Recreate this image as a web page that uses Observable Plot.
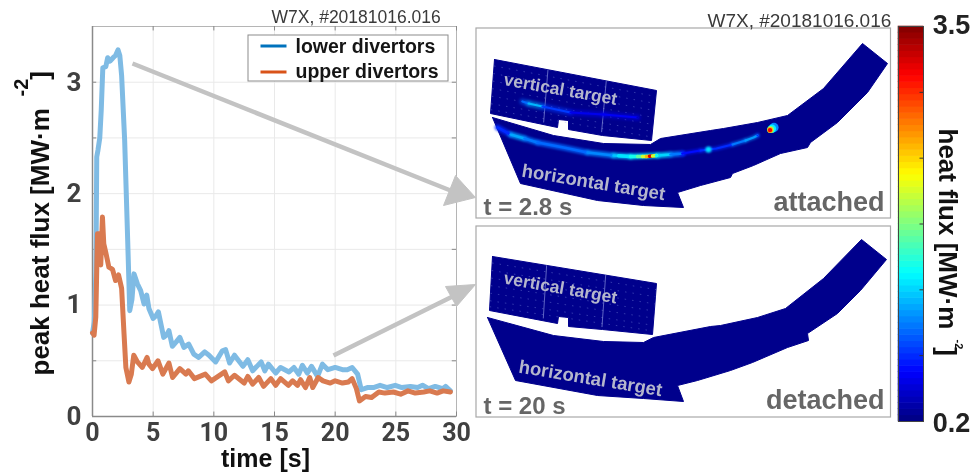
<!DOCTYPE html>
<html>
<head>
<meta charset="utf-8">
<script src="https://cdn.jsdelivr.net/npm/d3@7"></script>
<script src="https://cdn.jsdelivr.net/npm/@observablehq/plot@0.6"></script>
<style>
  html, body { margin: 0; background: #fff; overflow: hidden; }
  #fig { position: relative; width: 971px; height: 472px; filter: blur(0.5px); }
  #fig svg { position: absolute; left: 0; top: 0; background: transparent; overflow: visible; }
</style>
</head>
<body>
<div id="fig"></div>
<script>
// ---- peak heat flux time traces ----
const lowerT = [0.0,0.15,0.28,0.35,0.45,0.6,0.72,0.85,1.1,1.25,1.45,1.7,1.9,2.1,2.25,2.4,2.65,2.9,3.07,3.25,3.42,3.7,3.97,4.25,4.47,4.65,5.0,5.2,5.43,5.87,6.1,6.3,6.58,6.9,7.2,7.53,7.93,8.35,8.75,9.25,9.6,10.15,10.7,10.97,11.3,11.7,12.4,12.8,13.2,13.9,14.2,14.5,15.1,15.5,16.2,16.6,17,17.3,17.7,18.05,18.55,18.95,19.4,20,20.6,21,21.4,21.85,22.15,22.65,23.15,23.7,24.3,24.95,25.5,26.2,26.8,27.2,27.7,28.25,28.85,29.1,29.5];
const lowerQ = [0.75,0.85,1.3,2.33,2.39,2.5,2.75,3.13,3.14,3.22,3.19,3.22,3.24,3.29,3.24,3.06,2.48,1.58,0.95,1.05,1.28,1.19,1.13,1.01,1.09,0.97,0.88,0.9,0.94,0.71,0.73,0.77,0.63,0.67,0.71,0.62,0.65,0.56,0.53,0.58,0.55,0.49,0.59,0.60,0.48,0.55,0.45,0.51,0.41,0.49,0.41,0.47,0.39,0.44,0.40,0.44,0.38,0.46,0.39,0.45,0.36,0.47,0.42,0.44,0.42,0.42,0.44,0.38,0.24,0.26,0.26,0.28,0.26,0.28,0.26,0.27,0.26,0.28,0.25,0.27,0.25,0.27,0.23];
const upperT = [0.0,0.13,0.27,0.41,0.6,0.68,0.82,0.93,1.1,1.35,1.65,1.9,2.15,2.4,2.6,2.75,3.0,3.2,3.4,3.7,4.1,4.5,4.65,4.95,5.4,5.8,6.3,6.6,7.2,7.7,7.9,8.4,9.3,9.8,10.9,11.2,11.7,12.5,12.8,13.2,13.7,14.1,14.7,15.1,15.5,16.15,16.5,16.9,17.15,17.55,17.9,18.15,18.6,19,19.6,20,20.6,21.1,21.4,21.75,22,22.5,23,23.6,24.1,24.8,25.4,26,26.6,27.3,27.8,28.4,28.9,29.5];
const upperQ = [0.75,0.73,0.89,1.64,1.64,1.36,1.79,1.55,1.47,1.34,1.32,1.22,1.27,1.15,0.74,0.44,0.31,0.38,0.55,0.49,0.44,0.53,0.47,0.43,0.50,0.38,0.48,0.35,0.43,0.38,0.41,0.34,0.38,0.32,0.40,0.32,0.37,0.30,0.36,0.29,0.35,0.27,0.34,0.28,0.34,0.28,0.32,0.28,0.33,0.26,0.35,0.26,0.35,0.32,0.30,0.32,0.30,0.31,0.34,0.25,0.14,0.18,0.17,0.22,0.21,0.22,0.20,0.23,0.21,0.22,0.23,0.21,0.23,0.22];

const xTicks = [0,5,10,15,20,25,30];
const yLabelTicks = [0,1,2,3];
const yMinorTicks = [0.5,1.5,2.5];

// ---- jet colour map of the heat-flux scale ----
const heatStops = [0.2,0.6125,1.4375,2.2625,3.0875,3.5];
const heatColors = ["#000080","#0000ff","#00ffff","#ffff00","#ff0000","#800000"];
const barSteps = 64;
const barTicks = [0.2,0.75,1.3,1.85,2.4,2.95,3.5];

// ---- divertor target outlines, attached phase (t = 2.8 s) ----
const verticalA = [[494,59],[656,90],[651,140],[602,135],[568,129],[568,120],[558,119],[557,127],[490,113],[494,59]];
const horizontalA = [[492,117],[553,135],[603,143],[650,144],[660,138],[710,130],[723,128],[757,122],[787,115],[823,88],[862,43],[887,63],[867,92],[837,122],[810,142],[807,147],[780,153],[753,165],[732,173],[730,177],[700,185],[677,192],[683,207],[643,205],[597,200],[520,183],[492,117]];
// ---- divertor target outlines, detached phase (t = 20 s) ----
const verticalD = [[492,256],[656,283],[652,334],[602,329],[568,326],[568,317],[558,316],[557,323],[489,310],[492,256]];
const horizontalD = [[487,317],[553,335],[603,341],[643,342],[653,337],[710,326],[720,325],[757,317],[785,308],[823,278],[861,239],[886,259],[860,290],[837,313],[807,333],[808,340],[787,347],[752,362],[730,370],[697,380],[677,385],[683,401],[643,398],[597,395],[515,380],[487,317]];

// ---- heat-flux stripes on the attached targets: [x, y, flux] ----
const stripeH1 = [[497,127,0.75],[510,134,1.15],[524,138,1.0],[537,142,0.95],[563,147,0.95],[587,152,1.05],[613,155,1.25],[630,156,1.35],[657,155,1.3],[670,154,1.0],[682,153,0.7]];
const stripeH2 = [[682,153,0.65],[700,150,0.75],[716,148,0.75],[732,144,1.0],[745,140,1.1],[753,137,1.1],[757,135,0.75]];
const stripeV = [[522,101,0.95],[528,103,1.2],[542,106,0.8],[570,112,0.55],[603,114,0.58],[637,117,0.4]];
const stripeHot = [[618,155.3,1.35],[630,156,1.5],[637,156,1.75],[642,156,2.1],[646,156,2.5],[649,155.7,3.2],[652,155.5,2.1],[656,155,1.45]];
const midSpot = [[708,149,1.35,2.2]];
const hotSpotLayers = [[773.5,127,1.05,5.0],[771.5,128.2,1.4,4.0],[770.2,129,1.8,3.0],[769.7,129.4,2.5,2.0],[769.5,129.6,3.1,1.1]];

// ---- texts ----
const shotLabel = "W7X, #20181016.016";
const seriesNames = ["lower divertors","upper divertors"];
const seriesBright = ["#0072bd","#d95319"];
const seriesTrace = ["#7fbbe4","#d97a50"];

const fig = document.getElementById("fig");
const serif = "Liberation Sans, Arial, sans-serif";
const tickFont = "Roboto, Liberation Sans, sans-serif";

// ---- left time-trace chart ----
fig.appendChild(Plot.plot({
  width: 971, height: 472,
  marginLeft: 92, marginRight: 515, marginTop: 26, marginBottom: 56,
  x: {domain: [0, 30]},
  y: {domain: [0, 3.5]},
  marks: [
    Plot.ruleX(xTicks, {stroke: "#e9e9e9", strokeWidth: 1}),
    Plot.ruleY(yLabelTicks.concat(yMinorTicks), {stroke: "#e9e9e9", strokeWidth: 1}),
    Plot.frame({stroke: "#b5b5b5", strokeWidth: 1}),
    Plot.ruleX(xTicks, {y1: 0, y2: 0.04, stroke: "#888"}),
    Plot.ruleX(xTicks, {y1: 3.46, y2: 3.5, stroke: "#888"}),
    Plot.ruleY(yLabelTicks.concat(yMinorTicks), {x1: 0, x2: 0.35, stroke: "#888"}),
    Plot.ruleY(yLabelTicks.concat(yMinorTicks), {x1: 29.65, x2: 30, stroke: "#888"}),
    Plot.ruleX([0], {stroke: "#8a8a8a", strokeWidth: 1.5}),
    Plot.ruleY([0], {stroke: "#8a8a8a", strokeWidth: 1.5}),
    Plot.axisX({ticks: xTicks, tickSize: 0, tickPadding: 7, fontSize: 25, fontWeight: 700, fontFamily: tickFont, fill: "#404040", label: null, tickFormat: d => String(d)}),
    Plot.axisY({ticks: yLabelTicks, tickSize: 0, tickPadding: 11, fontSize: 26, fontWeight: 700, fontFamily: tickFont, fill: "#404040", label: null, tickFormat: d => String(d)}),
    Plot.line(lowerQ, {x: lowerT, y: lowerQ, stroke: seriesTrace[0], strokeWidth: 5, curve: "linear", strokeLinejoin: "round"}),
    Plot.line(upperQ, {x: upperT, y: upperQ, stroke: seriesTrace[1], strokeWidth: 5, curve: "linear", strokeLinejoin: "round"})
  ]
}));

// ---- scene helpers: the overlay shares a figure-wide coordinate scale ----
const note = (t, x, y, o = {}) => Plot.text([t], {x: () => x, y: () => y, text: d => d, fontFamily: serif, lineAnchor: "middle", ...o});
const poly = (pts, fill) => Plot.line(pts, {x: d => d[0], y: d => d[1], fill, stroke: fill, strokeWidth: 1});
const stripe = (pts, w, extra = {}) => Plot.line(pts, {x: d => d[0], y: d => d[1], z: null, stroke: d => d[2], strokeWidth: w, ...extra});
const box = (x1, y1, x2, y2, o) => Plot.rect([0], {x1: () => x1, x2: () => x2, y1: () => y1, y2: () => y2, ...o});
const seg = (x1, y1, x2, y2, o) => Plot.link([0], {x1: () => x1, y1: () => y1, x2: () => x2, y2: () => y2, ...o});
const tile = "#00008c";
const lerp = (a, b, f) => [a[0] + (b[0] - a[0]) * f, a[1] + (b[1] - a[1]) * f];
function tileRows(tl, tr, bl, br) {
  const marks = [];
  for (const f of [0.12,0.26,0.4,0.54,0.68,0.82,0.93]) {
    marks.push(seg(...lerp(tl, bl, f), ...lerp(tr, br, f), {stroke: "#8f9fe8", strokeWidth: 0.8, strokeDasharray: "1.5 6", strokeOpacity: 0.45}));
  }
  return marks;
}
function tileCuts(tl, tr, bl, br) {
  return [0.33, 0.69].map(f => seg(...lerp(tl, tr, f), ...lerp(bl, br, f), {stroke: "#a8b4ee", strokeWidth: 0.8, strokeOpacity: 0.7}));
}
const arrowGrey = "#c3c3c3";
const targetFont = {fontWeight: 700, fill: "#b4b6cc", textAnchor: "middle"};

fig.appendChild(Plot.plot({
  width: 971, height: 472,
  marginLeft: 0, marginRight: 0, marginTop: 0, marginBottom: 0,
  x: {domain: [0, 971], range: [0, 971], axis: null},
  y: {domain: [0, 472], range: [0, 472], axis: null},
  color: {type: "linear", domain: heatStops, range: heatColors},
  marks: [
    // legend
    box(248, 35, 448, 81, {fill: "#fff", stroke: "#8c8c8c", strokeWidth: 1}),
    seg(260, 45.5, 286, 45.5, {stroke: seriesBright[0], strokeWidth: 3}),
    seg(260, 71.5, 286, 71.5, {stroke: seriesBright[1], strokeWidth: 3}),
    note(seriesNames[0], 295, 46.5, {textAnchor: "start", fontSize: 19.5, fontWeight: 700, fill: "#151515"}),
    note(seriesNames[1], 295, 71.5, {textAnchor: "start", fontSize: 19.5, fontWeight: 700, fill: "#151515"}),

    // image panels
    box(476, 28, 890.5, 218, {fill: "#fff", stroke: "#a8a8a8", strokeWidth: 1.2}),
    box(476, 226, 890.5, 417, {fill: "#fff", stroke: "#a8a8a8", strokeWidth: 1.2}),

    // attached targets
    poly(verticalA, tile),
    poly(horizontalA, tile),
    ...tileRows([494,59],[656,90],[490,113],[651,140]),
    ...tileCuts([494,59],[656,90],[490,113],[651,140]),
    stripe(stripeV, 6, {strokeOpacity: 0.55, imageFilter: "blur(1.4px)"}),
    stripe(stripeV, 2.2, {imageFilter: "blur(0.5px)"}),
    stripe(stripeH1, 6, {strokeOpacity: 0.75, imageFilter: "blur(1.1px)"}),
    stripe(stripeH2, 4.5, {strokeOpacity: 0.6, imageFilter: "blur(1.1px)"}),
    stripe(stripeH1, 2.6, {imageFilter: "blur(0.4px)"}),
    stripe(stripeH2, 2.2, {imageFilter: "blur(0.4px)"}),
    stripe(stripeHot, 3.4, {imageFilter: "blur(0.5px)"}),
    Plot.dot(midSpot, {x: d => d[0], y: d => d[1], fill: d => d[2], r: d => d[3], stroke: null, imageFilter: "blur(0.8px)"}),
    Plot.dot(hotSpotLayers, {x: d => d[0], y: d => d[1], fill: d => d[2], r: d => d[3], stroke: null, imageFilter: "blur(0.5px)"}),

    // detached targets
    poly(verticalD, tile),
    poly(horizontalD, tile),
    ...tileRows([492,256],[656,283],[489,310],[652,334]),
    ...tileCuts([492,256],[656,283],[489,310],[652,334]),

    // arrows
    seg(132, 63, 450, 190, {stroke: arrowGrey, strokeWidth: 4.5}),
    poly([[475,197],[455,175],[443,205],[475,197]], arrowGrey),
    seg(333, 355, 452, 296, {stroke: arrowGrey, strokeWidth: 4.5}),
    poly([[475,284],[445,286],[456,306],[475,284]], arrowGrey),

    // panel texts
    note("vertical target", 560, 89, {rotate: 10, fontSize: 17.5, ...targetFont}),
    note("horizontal target", 593, 182, {rotate: 9.5, fontSize: 18.5, ...targetFont}),
    note("vertical target", 560, 287.5, {rotate: 10, fontSize: 17.5, ...targetFont}),
    note("horizontal target", 590, 378, {rotate: 9.5, fontSize: 18.5, ...targetFont}),
    note("t = 2.8 s", 483, 207, {textAnchor: "start", fontSize: 24, fontWeight: 700, fill: "#666"}),
    note("t = 20 s", 483, 406, {textAnchor: "start", fontSize: 24, fontWeight: 700, fill: "#666"}),
    note("attached", 884, 202, {textAnchor: "end", fontSize: 27, fontWeight: 700, fill: "#666"}),
    note("detached", 884, 400, {textAnchor: "end", fontSize: 27, fontWeight: 700, fill: "#666"}),

    // headers
    note(shotLabel, 271, 17, {textAnchor: "start", fontSize: 17.5, fill: "#3a3a3a"}),
    note(shotLabel, 707, 20, {textAnchor: "start", fontSize: 19, fill: "#3a3a3a"}),

    // axis titles
    note("time [s]", 265, 458, {textAnchor: "middle", fontSize: 25, fontWeight: 700, fill: "#111"}),
    note("peak heat flux [MW·m", 40, 375, {rotate: -90, textAnchor: "start", fontSize: 26, fontWeight: 700, fill: "#111"}),
    note("-2", 21, 87, {rotate: -90, textAnchor: "middle", fontSize: 20, fontWeight: 700, fill: "#111"}),
    note("]", 40, 75, {rotate: -90, textAnchor: "middle", fontSize: 26, fontWeight: 700, fill: "#111"}),
    note("3.5", 951, 25, {textAnchor: "middle", fontSize: 27, fontWeight: 700, fill: "#222"}),
    note("0.2", 951, 423, {textAnchor: "middle", fontSize: 27, fontWeight: 700, fill: "#222"}),
    note("heat flux [MW·m", 947, 128, {rotate: 90, textAnchor: "start", fontSize: 26, fontWeight: 700, fill: "#111"}),
    note("-2", 958, 344, {rotate: 90, textAnchor: "middle", fontSize: 11, fontWeight: 700, fill: "#111"}),
    note("]", 946, 351, {rotate: 90, textAnchor: "middle", fontSize: 26, fontWeight: 700, fill: "#111"})
  ]
}));

// ---- colour bar ----
const barEdges = d3.range(barSteps).map(i => 0.2 + (3.3 * i) / barSteps);
const barStep = 3.3 / barSteps;
fig.appendChild(Plot.plot({
  width: 971, height: 472,
  marginLeft: 898, marginRight: 48, marginTop: 26, marginBottom: 51,
  x: {domain: [0, 1], axis: null},
  y: {domain: [0.2, 3.5], axis: null},
  color: {type: "linear", domain: heatStops, range: heatColors},
  marks: [
    Plot.rectY(barEdges, {y1: d => d, y2: d => d + barStep, fill: d => d + barStep / 2, inset: -0.3}),
    Plot.ruleY(barTicks, {x1: 0.86, x2: 1, stroke: "#333", strokeWidth: 1}),
    Plot.frame({stroke: "#444", strokeWidth: 1})
  ]
}));
</script>
</body>
</html>
